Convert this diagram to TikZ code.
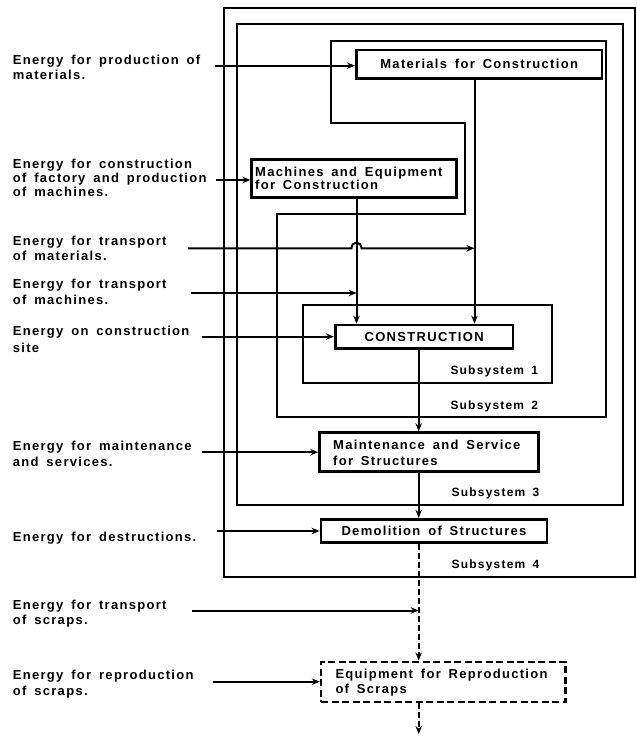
\documentclass[tikz,border=0pt]{standalone}
\usepackage{fontspec}
\usetikzlibrary{arrows.meta}
\newfontfamily\diagfont[LetterSpace=10,WordSpace=1.6]{Liberation Sans Bold}
\newcommand\dgtext{\diagfont\fontsize{13}{15}\selectfont}
\newcommand\dgsub{\diagfont\fontsize{12}{14}\selectfont}
\tikzset{
  sysline/.style={line width=2pt},
  blk/.style={draw, line width=2.8pt, inner sep=0pt, font=\dgtext},
  dblk/.style={draw, line width=2.4pt, inner sep=0pt, dash pattern=on 7pt off 3.5pt},
  flow/.style={line width=2pt, -{Stealth[length=8pt,width=6.5pt]}},
  dflow/.style={flow, dash pattern=on 6pt off 3pt},
  txt/.style={inner sep=0pt, align=left, anchor=west, font=\dgtext},
  sublbl/.style={inner sep=0pt, anchor=west, font=\dgsub}
}
\begin{document}
\begin{tikzpicture}[x=1pt,y=-1pt]
\useasboundingbox (0,0) rectangle (637,742);
% subsystem outlines
\draw[sysline] (224,8) rectangle (634.5,577);
\draw[sysline] (237,24.3) rectangle (623,505);
\draw[sysline] (331.3,40.7) -- (606,40.7) -- (606,417) -- (277.3,417) -- (277.3,214)
  -- (464.7,214) -- (464.7,122.7) -- (331.3,122.7) -- cycle;
\draw[sysline] (302.7,304.5) rectangle (551.5,382.5);
\node[sublbl] (s1) at (450.3,371.7) {Subsystem 1};
\node[sublbl] (s2) at (450.3,406.5) {Subsystem 2};
\node[sublbl] (s3) at (451.5,493.5) {Subsystem 3};
\node[sublbl] (s4) at (451.5,565) {Subsystem 4};
% blocks
\node[blk, minimum width=245.7, minimum height=28.3] (mat) at (479.15,64.15) {Materials for Construction};
\node[blk, minimum width=204.6, minimum height=38] (mach) at (354,178.3) {};
\node[txt, font=\diagfont\fontsize{13}{12.8}\selectfont] (macht) at (255,178.3) {Machines and Equipment\\for Construction};
\node[blk, minimum width=177.7, minimum height=23.3] (con) at (424.15,336.65) {CONSTRUCTION};
\node[blk, minimum width=219, minimum height=39] (maint) at (429.2,452.2) {};
\node[txt, font=\diagfont\fontsize{13}{16}\selectfont] (maintt) at (333,452.4) {Maintenance and Service\\for Structures};
\node[blk, minimum width=226, minimum height=23.4] (demo) at (434,531) {Demolition of Structures};
\node[dblk, minimum width=244.3, minimum height=40] (equip) at (443.15,681.7) {};
\node[txt] (equipt) at (335.3,682.5) {Equipment for Reproduction\\of Scraps};
% left labels
\node[txt] (e1) at (12.7,67.5) {Energy for production of\\materials.};
\node[txt, font=\diagfont\fontsize{13}{14}\selectfont] (e2) at (12.7,178.3) {Energy for construction\\of factory and production\\of machines.};
\node[txt] (e3) at (12.7,248.7) {Energy for transport\\of materials.};
\node[txt, font=\diagfont\fontsize{13}{16.5}\selectfont] (e4) at (12.7,291.6) {Energy for transport\\of machines.};
\node[txt, font=\diagfont\fontsize{13}{16.5}\selectfont] (e5) at (12.7,339.4) {Energy on construction\\site};
\node[txt, font=\diagfont\fontsize{13}{16}\selectfont] (e6) at (12.7,453.7) {Energy for maintenance\\and services.};
\node[txt] (e7) at (12.7,537.7) {Energy for destructions.};
\node[txt] (e8) at (12.7,613.2) {Energy for transport\\of scraps.};
\node[txt, font=\diagfont\fontsize{13}{16}\selectfont] (e9) at (12.7,683.7) {Energy for reproduction\\of scraps.};
% helper coordinates
\coordinate (mx) at (356.5,0);
\coordinate (tx) at (474.5,0);
\coordinate (sx) at (418.7,0);
\coordinate (a1) at (215,65.7);
\coordinate (a2) at (216,180);
\coordinate (a3) at (188,248.3);
\coordinate (a3e) at (474.5,248.3);
\coordinate (a4) at (190.7,293);
\coordinate (a4e) at (356.5,293);
\coordinate (a5) at (202,336.65);
\coordinate (a6) at (202,452.2);
\coordinate (a7) at (216.7,531);
\coordinate (a8) at (191.7,610.5);
\coordinate (a8e) at (418.7,610.5);
\coordinate (a9) at (213,681.7);
\coordinate (endp) at (418.7,734);
% connectors
\draw[flow] (a1) -- (mat.west |- a1);
\draw[flow] (a2) -- (mach.west |- a2);
\draw[flow] (a3) -- (351.5,248.3) .. controls (351.5,240.8) and (361.5,240.8) .. (361.5,248.3) -- (a3e);
\draw[flow] (a4) -- (a4e);
\draw[flow] (a5) -- (con.west);
\draw[flow] (mach.south -| mx) -- (con.north -| mx);
\draw[flow] (mat.south -| tx) -- (con.north -| tx);
\draw[flow] (con.south -| sx) -- (maint.north -| sx);
\draw[flow] (a6) -- (maint.west);
\draw[flow] (maint.south -| sx) -- (demo.north -| sx);
\draw[flow] (a7) -- (demo.west);
\draw[dflow] (demo.south -| sx) -- (equip.north -| sx);
\draw[flow] (a8) -- (a8e);
\draw[flow] (a9) -- (equip.west);
\draw[dflow] (equip.south -| sx) -- (endp);
\end{tikzpicture}
\end{document}
